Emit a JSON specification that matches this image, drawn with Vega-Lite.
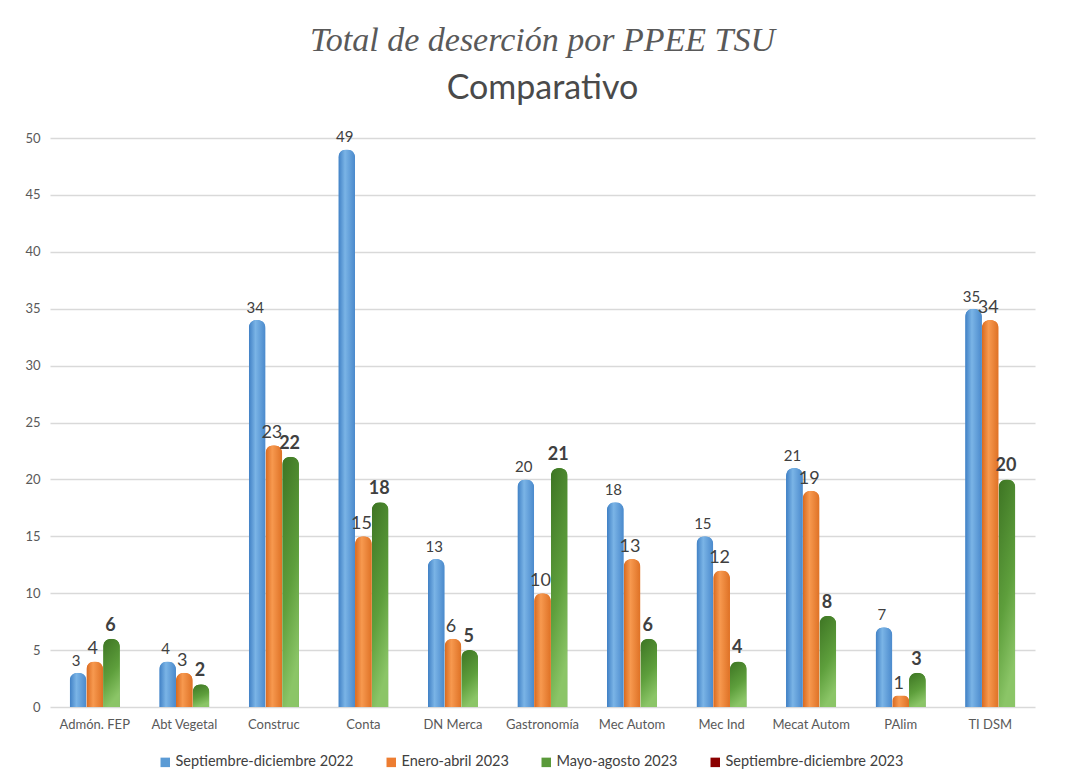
{
  "$schema": "https://vega.github.io/schema/vega-lite/v6.json",
  "width": 985,
  "height": 569,
  "autosize": {"type": "none"},
  "padding": {"left": 50, "top": 138, "right": 30, "bottom": 75},
  "background": "white",
  "title": {
    "text": "Total de deserción por PPEE  TSU",
    "subtitle": "Comparativo",
    "anchor": "middle",
    "frame": "group",
    "font": "Liberation Serif",
    "fontStyle": "italic",
    "fontWeight": "normal",
    "fontSize": 34,
    "color": "#595959",
    "subtitleFont": "Lato",
    "subtitleFontSize": 34,
    "subtitleColor": "#4A4A4A",
    "subtitlePadding": 14,
    "offset": 24
  },
  "config": {
    "view": {"stroke": null},
    "font": "Lato"
  },
  "data": {
    "values": [
      {"carrera": "Admón. FEP", "serie": "Septiembre-diciembre 2022", "valor": 3},
      {"carrera": "Admón. FEP", "serie": "Enero-abril 2023", "valor": 4},
      {"carrera": "Admón. FEP", "serie": "Mayo-agosto 2023", "valor": 6},
      {"carrera": "Abt Vegetal", "serie": "Septiembre-diciembre 2022", "valor": 4},
      {"carrera": "Abt Vegetal", "serie": "Enero-abril 2023", "valor": 3},
      {"carrera": "Abt Vegetal", "serie": "Mayo-agosto 2023", "valor": 2},
      {"carrera": "Construc", "serie": "Septiembre-diciembre 2022", "valor": 34},
      {"carrera": "Construc", "serie": "Enero-abril 2023", "valor": 23},
      {"carrera": "Construc", "serie": "Mayo-agosto 2023", "valor": 22},
      {"carrera": "Conta", "serie": "Septiembre-diciembre 2022", "valor": 49},
      {"carrera": "Conta", "serie": "Enero-abril 2023", "valor": 15},
      {"carrera": "Conta", "serie": "Mayo-agosto 2023", "valor": 18},
      {"carrera": "DN Merca", "serie": "Septiembre-diciembre 2022", "valor": 13},
      {"carrera": "DN Merca", "serie": "Enero-abril 2023", "valor": 6},
      {"carrera": "DN Merca", "serie": "Mayo-agosto 2023", "valor": 5},
      {"carrera": "Gastronomía", "serie": "Septiembre-diciembre 2022", "valor": 20},
      {"carrera": "Gastronomía", "serie": "Enero-abril 2023", "valor": 10},
      {"carrera": "Gastronomía", "serie": "Mayo-agosto 2023", "valor": 21},
      {"carrera": "Mec Autom", "serie": "Septiembre-diciembre 2022", "valor": 18},
      {"carrera": "Mec Autom", "serie": "Enero-abril 2023", "valor": 13},
      {"carrera": "Mec Autom", "serie": "Mayo-agosto 2023", "valor": 6},
      {"carrera": "Mec Ind", "serie": "Septiembre-diciembre 2022", "valor": 15},
      {"carrera": "Mec Ind", "serie": "Enero-abril 2023", "valor": 12},
      {"carrera": "Mec Ind", "serie": "Mayo-agosto 2023", "valor": 4},
      {"carrera": "Mecat Autom", "serie": "Septiembre-diciembre 2022", "valor": 21},
      {"carrera": "Mecat Autom", "serie": "Enero-abril 2023", "valor": 19},
      {"carrera": "Mecat Autom", "serie": "Mayo-agosto 2023", "valor": 8},
      {"carrera": "PAlim", "serie": "Septiembre-diciembre 2022", "valor": 7},
      {"carrera": "PAlim", "serie": "Enero-abril 2023", "valor": 1},
      {"carrera": "PAlim", "serie": "Mayo-agosto 2023", "valor": 3},
      {"carrera": "TI DSM", "serie": "Septiembre-diciembre 2022", "valor": 35},
      {"carrera": "TI DSM", "serie": "Enero-abril 2023", "valor": 34},
      {"carrera": "TI DSM", "serie": "Mayo-agosto 2023", "valor": 20}
    ]
  },
  "encoding": {
    "x": {
      "field": "carrera",
      "type": "nominal",
      "sort": null,
      "scale": {"paddingInner": 0.44, "paddingOuter": 0.22},
      "axis": {
        "title": null,
        "labelAngle": 0,
        "ticks": false,
        "domain": false,
        "labelFontSize": 13,
        "labelColor": "#595959",
        "labelPadding": 11
      }
    },
    "xOffset": {
      "field": "serie",
      "type": "nominal",
      "scale": {"domain": ["Septiembre-diciembre 2022", "Enero-abril 2023", "Mayo-agosto 2023"], "paddingInner": 0, "paddingOuter": 0}
    },
    "y": {
      "field": "valor",
      "type": "quantitative",
      "scale": {"domain": [0, 50], "nice": false},
      "axis": {
        "title": null,
        "values": [0, 5, 10, 15, 20, 25, 30, 35, 40, 45, 50],
        "ticks": false,
        "domain": false,
        "gridColor": "#D9D9D9",
        "gridWidth": 1.5,
        "labelFontSize": 13,
        "labelColor": "#595959",
        "labelPadding": 10
      }
    }
  },
  "layer": [
    {
      "mark": {"type": "bar", "cornerRadiusTopLeft": 8, "cornerRadiusTopRight": 8},
      "encoding": {
        "color": {
          "field": "serie",
          "type": "nominal",
          "scale": {
            "domain": ["Septiembre-diciembre 2022", "Enero-abril 2023", "Mayo-agosto 2023", "Septiembre-diciembre 2023"],
            "range": ["#5B9BD5", "#ED7D31", "#5A9A3A", "#8B0000"]
          },
          "legend": {
            "title": null,
            "orient": "none",
            "legendX": 108,
            "legendY": 617,
            "direction": "horizontal",
            "columns": 4,
            "columnPadding": 30,
            "symbolType": "square",
            "symbolSize": 90,
            "symbolStrokeWidth": 0,
            "labelFontSize": 14.5,
            "labelLimit": 400,
            "labelColor": "#404040",
            "labelOffset": 3
          }
        }
      }
    },
    {
      "transform": [{"filter": "datum.serie === 'Septiembre-diciembre 2022'"}],
      "mark": {
        "type": "bar",
        "cornerRadiusTopLeft": 8,
        "cornerRadiusTopRight": 8,
        "color": {"gradient": "linear", "x1": 0, "y1": 0, "x2": 1, "y2": 0,
          "stops": [{"offset": 0, "color": "#3F7FC4"}, {"offset": 0.4, "color": "#7AB4E6"}, {"offset": 1, "color": "#4A89CC"}]}
      }
    },
    {
      "transform": [{"filter": "datum.serie === 'Enero-abril 2023'"}],
      "mark": {
        "type": "bar",
        "cornerRadiusTopLeft": 8,
        "cornerRadiusTopRight": 8,
        "color": {"gradient": "linear", "x1": 0, "y1": 0, "x2": 1, "y2": 0,
          "stops": [{"offset": 0, "color": "#D8691F"}, {"offset": 0.4, "color": "#F7994F"}, {"offset": 1, "color": "#DE7125"}]}
      }
    },
    {
      "transform": [{"filter": "datum.serie === 'Mayo-agosto 2023'"}],
      "mark": {
        "type": "bar",
        "cornerRadiusTopLeft": 8,
        "cornerRadiusTopRight": 8,
        "color": {"gradient": "linear", "x1": 0, "y1": 0, "x2": 0.3, "y2": 1,
          "stops": [{"offset": 0, "color": "#3D7423"}, {"offset": 0.6, "color": "#5E9F3C"}, {"offset": 1, "color": "#8BC567"}]}
      }
    },
    {
      "transform": [{"filter": "datum.serie === 'Septiembre-diciembre 2022'"}],
      "mark": {"type": "text", "baseline": "bottom", "dy": -4, "dx": -2, "fontSize": 15, "color": "#404040"},
      "encoding": {"text": {"field": "valor", "type": "quantitative"}}
    },
    {
      "transform": [{"filter": "datum.serie === 'Enero-abril 2023'"}],
      "mark": {"type": "text", "baseline": "bottom", "dy": -3, "dx": -2, "fontSize": 18, "color": "#404040"},
      "encoding": {"text": {"field": "valor", "type": "quantitative"}}
    },
    {
      "transform": [{"filter": "datum.serie === 'Mayo-agosto 2023'"}],
      "mark": {"type": "text", "baseline": "bottom", "dy": -4, "dx": -1, "fontSize": 18, "fontWeight": "bold", "color": "#404040"},
      "encoding": {"text": {"field": "valor", "type": "quantitative"}}
    }
  ]
}
